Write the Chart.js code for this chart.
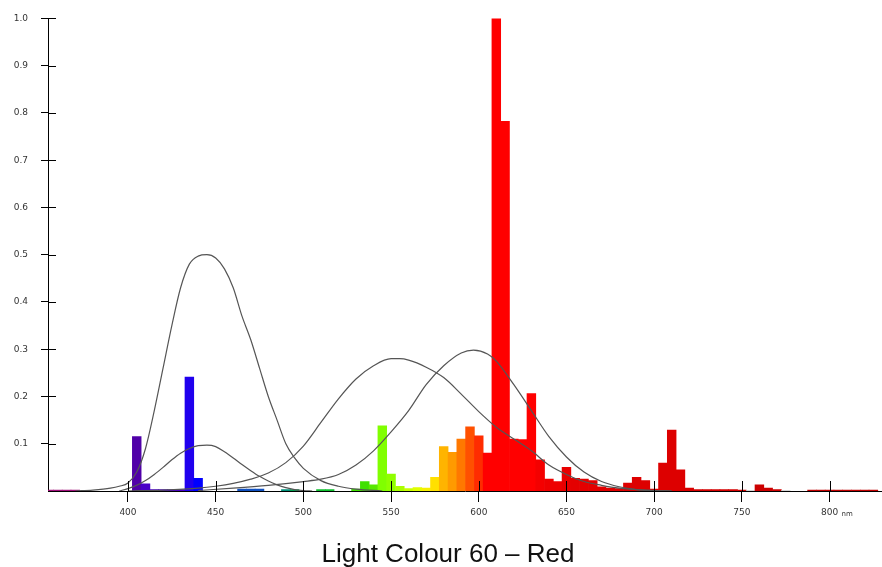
<!DOCTYPE html>
<html>
<head>
<meta charset="utf-8">
<script src="https://cdn.jsdelivr.net/npm/chart.js@4"></script>
<style>
html, body { margin: 0; padding: 0; background: #fff; }
#wrap { position: relative; width: 882px; height: 567px; }
#title { position: absolute; left: 0; width: 896px; top: 540px; line-height: 26px; text-align: center;
  font-family: "Liberation Sans", Arial, sans-serif; font-size: 26px; color: #111; }
</style>
</head>
<body>
<div id="wrap">
  <canvas id="spectrum" width="882" height="567"></canvas>
  <div id="title">Light Colour 60 – Red</div>
</div>
<script>
// spectrum bins, 5 nm wide
let binNm = [355, 360, 365, 370, 405, 410, 415, 420, 425, 430, 435, 440,
	465, 470, 475, 490, 495, 510, 515, 530, 535, 540, 545, 550, 555, 560, 565, 570,
	575, 580, 585, 590, 595, 600, 605, 610, 615, 620, 625, 630, 635, 640, 645, 650,
	655, 660, 665, 670, 675, 680, 685, 690, 695, 700, 705, 710, 715, 720, 725, 730,
	735, 740, 745, 750, 755, 760, 765, 770, 775, 790, 795, 800, 805, 810, 815, 820, 825]
let binValue = [0.002, 0.002, 0.002, 0.002, 0.115, 0.015, 0.003, 0.003, 0.003, 0.003, 0.241, 0.027,
	0.004, 0.004, 0.004, 0.003, 0.003, 0.003, 0.003, 0.004, 0.02, 0.013, 0.138, 0.036, 0.01, 0.005, 0.007, 0.006,
	0.029, 0.094, 0.082, 0.11, 0.136, 0.117, 0.08, 1.0, 0.782, 0.11, 0.109, 0.206, 0.066, 0.025, 0.02, 0.05,
	0.027, 0.025, 0.022, 0.009, 0.006, 0.005, 0.017, 0.029, 0.022, 0.004, 0.059, 0.129, 0.045, 0.006, 0.003, 0.003,
	0.003, 0.003, 0.003, 0.002, 0.001, 0.013, 0.006, 0.003, 0.001, 0.002, 0.002, 0.002, 0.002, 0.002, 0.002, 0.002, 0.002]
let binColour = ["#a0107a", "#a0107a", "#a0107a", "#a0107a", "#5000a8", "#4a00c8", "#4a00c8", "#4a00c8", "#4a00c8", "#4a00c8", "#2000ee", "#0000ff",
	"#1050c0", "#1050c0", "#1050c0", "#00907a", "#00a050", "#10c030", "#10c030", "#40e000", "#40e000", "#58e800", "#80ff00", "#90ff00", "#aaff00", "#c8ff00", "#e0ff00", "#f8f000",
	"#ffe000", "#ffb400", "#ff9a00", "#ff7800", "#ff5000", "#ff2c00", "#ff0000", "#ff0000", "#ff0000", "#ff0000", "#ff0000", "#ff0000", "#f40000", "#ee0000", "#ee0000", "#e80000",
	"#e40000", "#e40000", "#e40000", "#e00000", "#e00000", "#e00000", "#dd0000", "#dd0000", "#dd0000", "#dd0000", "#dd0000", "#dd0000", "#dd0000", "#d80000", "#d40000", "#d40000",
	"#d40000", "#d40000", "#d40000", "#d00000", "#c8c8c8", "#cc0000", "#cc0000", "#cc0000", "#c8c8c8", "#c00000", "#c00000", "#c00000", "#c00000", "#c00000", "#c00000", "#c00000", "#c00000"]

// sensitivity curves
let sNm = [370, 380, 390, 395, 400, 405, 410, 415, 420, 425, 430, 435, 440, 445, 450, 455, 460, 465, 470, 475, 480, 485, 490, 495, 500, 510, 520, 530, 545]
let sValue = [0, 0.002, 0.006, 0.01, 0.017, 0.04, 0.09, 0.17, 0.26, 0.35, 0.43, 0.48, 0.497, 0.5, 0.493, 0.47, 0.43, 0.37, 0.32, 0.26, 0.2, 0.15, 0.1, 0.07, 0.048, 0.022, 0.01, 0.004, 0]
let s2Nm = [395, 400, 405, 410, 415, 420, 425, 430, 435, 440, 445, 450, 455, 460, 465, 470, 475, 480, 485, 490, 495, 500, 505]
let s2Value = [0, 0.005, 0.012, 0.022, 0.035, 0.05, 0.066, 0.08, 0.09, 0.096, 0.097, 0.094, 0.083, 0.07, 0.056, 0.043, 0.031, 0.021, 0.013, 0.007, 0.003, 0.001, 0]
let mNm = [400, 420, 440, 450, 460, 470, 480, 490, 500, 510, 520, 530, 540, 550, 555, 560, 570, 580, 590, 600, 610, 620, 630, 640, 650, 660, 670, 680, 690, 700, 710]
let mValue = [0, 0.002, 0.006, 0.01, 0.016, 0.025, 0.038, 0.06, 0.095, 0.145, 0.195, 0.237, 0.265, 0.28, 0.28, 0.277, 0.262, 0.24, 0.205, 0.168, 0.135, 0.11, 0.085, 0.055, 0.035, 0.02, 0.012, 0.006, 0.003, 0.001, 0]
let lNm = [440, 460, 480, 500, 510, 520, 530, 540, 550, 560, 570, 580, 590, 597, 605, 610, 620, 630, 640, 650, 660, 670, 680, 690, 700, 710]
let lValue = [0.001, 0.006, 0.012, 0.02, 0.025, 0.035, 0.055, 0.085, 0.125, 0.17, 0.225, 0.265, 0.292, 0.298, 0.29, 0.275, 0.225, 0.17, 0.115, 0.072, 0.04, 0.02, 0.009, 0.003, 0.001, 0]

let xTicks = [400, 450, 500, 550, 600, 650, 700, 750, 800]
let yTicks = [0.1, 0.2, 0.3, 0.4, 0.5, 0.6, 0.7, 0.8, 0.9, 1.0]

function pts(xs, ys) {
	return xs.map((v, i) => ({ x: v, y: ys[i] }))
}

function curve(xs, ys) {
	return {
		type: 'line',
		data: pts(xs, ys),
		borderColor: "#555",
		borderWidth: 1.2,
		pointRadius: 0,
		cubicInterpolationMode: 'monotone',
		order: 0
	}
}

let tickFont = { family: "DejaVu Sans", size: 9 }

// tick marks cross the axes, plus the unit after 800
let innerTicks = {
	id: 'innerTicks',
	afterDatasetsDraw(chart) {
		let ctx = chart.ctx
		let x = chart.scales.x
		let y = chart.scales.y
		ctx.save()
		ctx.strokeStyle = "#000"
		ctx.lineWidth = 1
		ctx.beginPath()
		xTicks.forEach(v => {
			let px = Math.round(x.getPixelForValue(v)) + 0.5
			ctx.moveTo(px, y.bottom)
			ctx.lineTo(px, y.bottom - 10)
		})
		yTicks.forEach(v => {
			let py = Math.round(y.getPixelForValue(v)) + 0.5
			ctx.moveTo(x.left, py)
			ctx.lineTo(x.left + 8, py)
		})
		ctx.stroke()
		ctx.fillStyle = "#333"
		ctx.font = '7px "DejaVu Sans"'
		ctx.textBaseline = 'middle'
		ctx.fillText('nm', x.getPixelForValue(800) + 12, y.bottom + 23)
		ctx.restore()
	}
}

let ctx1 = document.getElementById("spectrum").getContext('2d')
var spectrumChart = new Chart(ctx1, {
	type: 'bar',
	data: {
		datasets: [
			curve(sNm, sValue),
			curve(s2Nm, s2Value),
			curve(mNm, mValue),
			curve(lNm, lValue),
			{
				type: 'bar',
				data: pts(binNm, binValue),
				backgroundColor: binColour,
				borderWidth: 0,
				barPercentage: 1,
				categoryPercentage: 1,
				order: 1
			}
		]
	},
	plugins: [innerTicks],
	options: {
		responsive: false,
		animation: false,
		layout: { padding: { top: 14, right: 0, left: 0, bottom: 0 } },
		plugins: {
			legend: { display: false },
			tooltip: { enabled: false }
		},
		scales: {
			x: {
				type: 'linear',
				offset: false,
				min: 354.4,
				max: 829.9,
				afterBuildTicks: s => { s.ticks = xTicks.map(v => ({ value: v })) },
				afterFit: s => { s.height = 76 },
				grid: { display: true, offset: false, drawOnChartArea: false, drawTicks: true, tickLength: 11, color: "#000" },
				border: { display: true, color: "#000", width: 1 },
				ticks: { font: tickFont, color: "#333", padding: 5, maxRotation: 0, autoSkip: false,
					callback: v => String(v) }
			},
			y: {
				min: 0,
				max: 1,
				afterBuildTicks: s => { s.ticks = yTicks.map(v => ({ value: v })) },
				afterFit: s => { s.width = 48 },
				grid: { display: true, drawOnChartArea: false, drawTicks: true, tickLength: 7, color: "#000" },
				border: { display: true, color: "#000", width: 1 },
				ticks: { font: tickFont, color: "#333", padding: 13, callback: v => v.toFixed(1) }
			}
		}
	}
})
</script>
</body>
</html>
